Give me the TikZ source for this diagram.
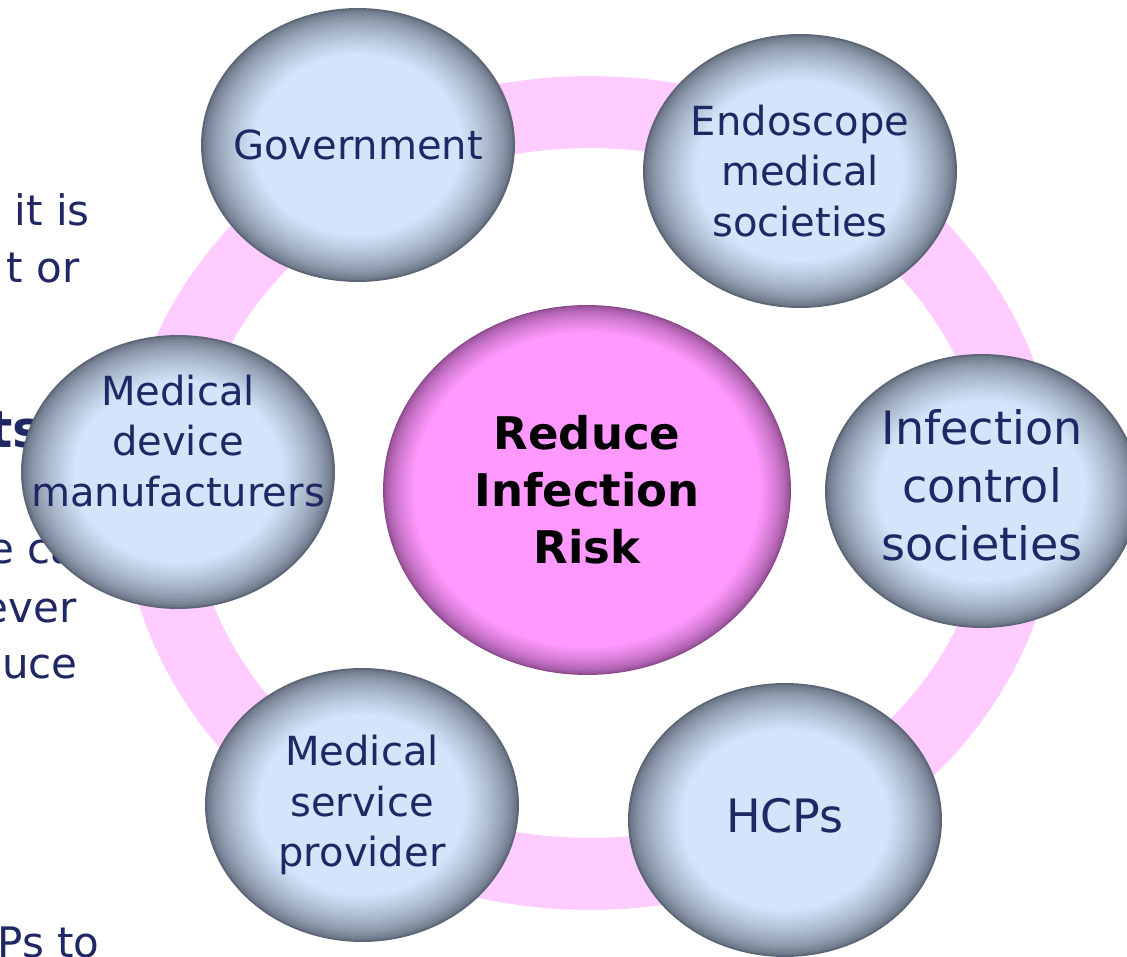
\documentclass[tikz,border=0pt]{standalone}
\usepackage{fontspec}
\setmainfont{DejaVu Sans}
\usetikzlibrary{shapes.geometric}

\definecolor{ringpink}{RGB}{255,204,255}
\definecolor{txtblue}{RGB}{31,40,100}
\definecolor{bubin}{RGB}{212,228,250}
\definecolor{bubout}{RGB}{92,102,118}
\definecolor{hubin}{RGB}{255,153,255}
\definecolor{hubout}{RGB}{138,72,138}

% soft rim: stacked ellipses from rim colour to inner colour
\newcommand{\layered}[6]{%
  \foreach \k in {0,...,24}{%
    \pgfmathsetmacro\shr{1-#6*\k/24}%
    \pgfmathsetmacro\mix{100*(\k/24)^0.6}%
    \fill[#4!\mix!#5] #1 ellipse [x radius=\shr*#2, y radius=\shr*#3];
  }}

\tikzstyle{bubble}=[ellipse,minimum width=6.28cm,minimum height=5.48cm,inner sep=0pt,align=center,text=txtblue,font=\fontsize{22.8}{28.5}\selectfont]
\tikzstyle{bigtext}=[font=\fontsize{26.2}{33}\selectfont]
\tikzstyle{hub}=[ellipse,minimum width=8.16cm,minimum height=7.4cm,inner sep=0pt,align=center,font=\bfseries\fontsize{25.6}{32.4}\selectfont]
\tikzstyle{slidetext}=[text=txtblue,inner sep=0pt,font=\fontsize{23.9}{30}\selectfont]

\begin{document}
\begin{tikzpicture}[x=0.02cm,y=-0.02cm]
     \useasboundingbox (0,0) rectangle (1127,957);

     % slide text left behind the diagram
     \foreach \pos/\name/\txt in {{(90,225)/itis/it is}, {(80,282)/tor/t or},
       {(77,622)/ever/ever}, {(78,678)/uce/uce}, {(100,957)/psto/Ps to}}
     \node[slidetext,anchor=base east] (\name) at \pos {\txt};
     \node[slidetext,anchor=base west,font=\bfseries\fontsize{29}{34}\selectfont] (ts) at (-12,447) {ts};
     \node[slidetext,anchor=base west] (eca) at (-12,563) {e ca};

     % pink ring
     \fill[ringpink,even odd rule] (590,493) ellipse [x radius=9.36cm, y radius=8.34cm]
                                   (590,493) ellipse [x radius=7.96cm, y radius=6.9cm];

     \layered{(587,490)}{4.08cm}{3.7cm}{hubin}{hubout}{0.15}
     \node[hub] (risk) at (587,490) {Reduce\\Infection\\Risk};

     \foreach \pos in {(358,145),(800,171),(982,491),(785,820),(362,805),(178,472)}
     \layered{\pos}{3.14cm}{2.74cm}{bubin}{bubout}{0.34};

     \foreach \pos/\name/\txt in {{(358,145)/gov/Government},
       {(800,171)/endo/{Endoscope\\medical\\societies}},
       {(362,805)/msp/{Medical\\service\\provider}}, {(178,472)/mdm/{}}}
     \node[bubble] (\name) at \pos {\txt};

     \node[bubble,bigtext] (ics) at (982,485) {Infection\\control\\societies};
     \node[bubble,bigtext] (hcp) at (785,816) {HCPs};
     \node[align=center,text=txtblue,font=\fontsize{22.8}{28.5}\selectfont] (mdmtxt) at (178,441) {Medical\\device\\manufacturers};

   \end{tikzpicture}
\end{document}
